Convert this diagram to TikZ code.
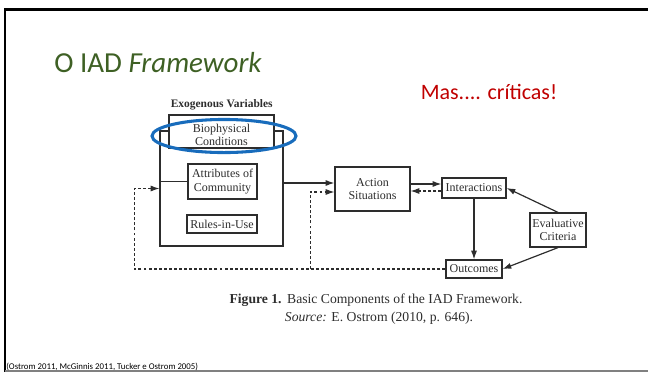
\documentclass[tikz,border=0pt]{standalone}
\usepackage{fontspec}
\setmainfont{Liberation Serif}
\newfontfamily\slidefont{Carlito}
\usepackage{xcolor}
\usepackage{tikz}
\usetikzlibrary{calc,positioning,arrows.meta}

\definecolor{titlegreen}{RGB}{62,96,36}
\definecolor{critred}{RGB}{192,0,0}
\definecolor{ovalblue}{RGB}{24,108,188}
\definecolor{figgray}{RGB}{45,45,45}

\begin{document}
\begin{tikzpicture}[x=0.75pt,y=-0.75pt,
		txt/.style={inner sep=0pt,text=figgray},
		box/.style={draw=figgray,line width=0.9pt,fill=white,inner sep=0pt,align=center,
			font=\fontsize{9}{10}\selectfont,text=figgray},
		arr/.style={draw=figgray,line width=0.9pt,-{Latex[length=6.5pt,width=4.5pt]}},
		dashline/.style={dash pattern=on 2.2pt off 1.6pt,line width=0.8pt}]
		\useasboundingbox (0,0) rectangle (648,372);
		
		\draw[line width=2pt] (648,9.5) -- (5,9.5) -- (5,372);
		\draw[gray,line width=1.2pt] (5,371.2) -- (648,371.2);
		
		\node[inner sep=0pt,anchor=base west,text=titlegreen,font=\slidefont\fontsize{21.75}{26}\selectfont] (title) at (54,72.7) {O IAD \textit{Framework}};
		\node[inner sep=0pt,anchor=base west,text=critred,font=\slidefont\fontsize{16.5}{20}\selectfont] (critica) at (420.5,99) {Mas.... críticas!};
		
		\node[txt,anchor=base,font=\bfseries\fontsize{8.6}{10}\selectfont] (exolabel) at (221.7,107) {Exogenous Variables};
		
		\node[box,minimum width=92.25pt,minimum height=86.25pt] (exo) at (221.5,188.5) {};
		\node[box,minimum width=78.75pt,minimum height=24.75pt] (bio) at (221.5,131.5) {};
		\node[box,draw=none,fill=none] (biotxt) at (221.5,135) {Biophysical\\Conditions};
		\node[box,minimum width=51.75pt,minimum height=26.25pt] (attr) at (222.5,181.5) {Attributes of\\Community};
		\node[box,minimum width=52.5pt,minimum height=13.5pt] (rules) at (222,224) {Rules-in-Use};
		
		\node[box,minimum width=56.25pt,minimum height=33pt] (action) at (372.5,189) {Action\\Situations};
		\node[box,minimum width=48pt,minimum height=15pt] (inter) at (474,188) {Interactions};
		\node[box,minimum width=42pt,minimum height=13.5pt] (outc) at (474,269) {Outcomes};
		\node[box,minimum width=42pt,minimum height=25.5pt] (evalc) at (558,230) {Evaluative\\Criteria};
		
		\draw[ovalblue,line width=2.3pt] (224,136) ellipse [x radius=54pt,y radius=12.4pt];
		
		\coordinate (actin) at ($(action.west)+(0,-6)$);
		\coordinate (loopl) at ($(exo.west)+(-25,0)$);
		\coordinate (loopm) at ($(outc.west)+(-135,0)$);
		
		\draw[draw=figgray,line width=0.9pt] (attr.west) -- (attr.west -| exo.west);
		\draw[arr] (exo.east |- actin) -- (actin);
		\draw[arr] ($(action.east)+(0,-5)$) -- ($(inter.west)+(0,-4)$);
		\draw[arr,dashline] ($(inter.west)+(0,3)$) -- ($(action.east)+(0,2)$);
		\draw[arr] (inter.south) -- (outc.north);
		\draw[arr] (evalc.north) -- (inter.east);
		\draw[arr] (evalc.south) -- (outc.east);
		\draw[arr,dashline] (outc.west) -| (loopl) -- (exo.west);
		\draw[arr,dashline] (loopm) |- ($(action.west)+(0,3)$);
		
		\node[txt,anchor=base,font=\fontsize{10.25}{12}\selectfont] (caption) at (376,303) {\textbf{Figure 1.}\hspace{0.4em}Basic Components of the IAD Framework.};
		\node[txt,anchor=base,font=\fontsize{10.25}{12}\selectfont] (source) at (379,321) {\textit{Source:} E. Ostrom (2010, p. 646).};
		
		\node[inner sep=0pt,anchor=base west,font=\slidefont\fontsize{6.6}{7}\selectfont] (refs) at (6,369.5) {(Ostrom 2011, McGinnis 2011, Tucker e Ostrom 2005)};
	\end{tikzpicture}
\end{document}
